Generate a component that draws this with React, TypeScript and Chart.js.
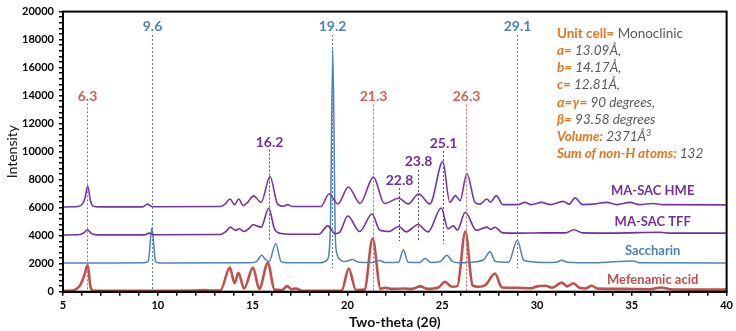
import React, { useEffect, useRef } from "react";
import { Chart, registerables } from "chart.js";

Chart.register(...registerables);

// ---- data (2θ, intensity) ----
const mefenamic: [number, number][] = [
  [5.0, 60], [5.5, 90], [5.9, 450], [6.12, 1150], [6.3, 1900], [6.45, 350], [6.6, 70], [8.0, 60],
  [10.0, 60], [12.0, 80], [12.5, 110], [12.7, 80], [13.3, 90], [13.8, 1720], [14.05, 600], [14.25, 1350],
  [14.55, 230], [15.02, 1720], [15.35, 200], [15.8, 2050], [16.15, 150], [16.55, 120], [16.82, 400],
  [17.05, 180], [17.3, 220], [17.6, 70], [19.0, 60], [19.7, 90], [20.07, 1650], [20.45, 120], [20.9, 150],
  [21.33, 3800], [21.75, 200], [22.0, 280], [22.3, 200], [23.0, 230], [23.4, 200], [23.85, 380], [24.2, 200],
  [24.8, 300], [25.15, 700], [25.5, 350], [25.8, 400], [26.22, 4300], [26.6, 450], [26.9, 350], [27.3, 500],
  [27.78, 1300], [28.15, 300], [28.9, 280], [29.7, 250], [30.0, 380], [30.45, 420], [30.8, 280], [31.3, 650],
  [31.6, 380], [31.92, 600], [32.2, 300], [32.55, 230], [32.88, 420], [33.2, 220], [34.5, 200], [36.0, 180],
  [36.55, 300], [37.0, 180], [38.5, 150], [40.0, 150],
];

const saccharin: [number, number][] = [
  [5.0, 2050], [9.3, 2060], [9.5, 2200], [9.69, 4550], [9.88, 2150], [10.1, 2050], [14.8, 2060], [15.2, 2150],
  [15.48, 2600], [15.62, 2400], [15.87, 2150], [16.22, 3430], [16.5, 2150], [16.8, 2060], [18.6, 2070],
  [18.95, 2300], [19.1, 4500], [19.23, 17300], [19.36, 4000], [19.45, 2700], [19.65, 2250], [19.9, 2150],
  [20.26, 2300], [20.6, 2100], [21.3, 2080], [21.68, 2230], [22.0, 2080], [22.7, 2100], [22.95, 3000],
  [23.2, 2100], [23.8, 2080], [24.1, 2370], [24.4, 2080], [24.9, 2150], [25.25, 2600], [25.55, 2150],
  [26.0, 2060], [26.5, 2100], [27.2, 2300], [27.52, 2850], [27.8, 2150], [28.5, 2100], [28.96, 3670],
  [29.3, 2250], [29.6, 2150], [30.5, 2080], [31.0, 2100], [31.3, 2250], [31.6, 2100], [33.0, 2060],
  [35.07, 2200], [35.4, 2060], [40.0, 2050],
];

const masacTFF: [number, number][] = [
  [5.0, 4050], [5.9, 4080], [6.15, 4250], [6.28, 4420], [6.5, 4150], [6.8, 4060], [9.3, 4060], [9.55, 4180],
  [9.8, 4070], [13.3, 4080], [13.6, 4300], [13.82, 4610], [14.1, 4380], [14.3, 4500], [14.55, 4300],
  [14.8, 4500], [15.02, 4780], [15.45, 4610], [15.85, 5960], [16.15, 4500], [16.5, 4150], [17.0, 4100],
  [18.5, 4100], [18.96, 4700], [19.35, 4140], [19.6, 4250], [20.02, 5400], [20.65, 4300], [21.3, 5550],
  [21.7, 4400], [22.2, 4300], [22.7, 4660], [23.1, 4270], [23.73, 4800], [24.25, 4270], [24.95, 5980],
  [25.3, 4500], [25.58, 4700], [25.8, 4400], [26.22, 5670], [26.8, 4380], [27.35, 4610], [27.55, 4450],
  [27.78, 4600], [28.2, 4200], [29.0, 4180], [30.3, 4200], [31.5, 4200], [31.95, 4420], [32.4, 4200],
  [34.0, 4180], [36.5, 4250], [37.0, 4180], [40.0, 4180],
];

const masacHME: [number, number][] = [
  [5.0, 6050], [5.8, 6080], [6.05, 6300], [6.18, 6800], [6.3, 7550], [6.45, 6500], [6.6, 6100], [6.9, 6060],
  [9.2, 6060], [9.45, 6250], [9.7, 6070], [13.3, 6080], [13.55, 6250], [13.81, 6620], [14.05, 6220],
  [14.27, 6620], [14.5, 6150], [14.75, 6400], [15.05, 6840], [15.45, 6380], [15.92, 8230], [16.3, 6300],
  [16.6, 6100], [16.85, 6220], [17.1, 6080], [18.6, 6080], [19.03, 6980], [19.5, 6270], [20.05, 7480],
  [20.67, 6300], [21.37, 8180], [21.95, 6300], [22.72, 6670], [23.2, 6270], [23.76, 6980], [24.35, 6270],
  [25.03, 9290], [25.4, 6380], [25.7, 6860], [25.94, 6500], [26.3, 8440], [26.73, 6380], [27.0, 6250],
  [27.35, 6620], [27.55, 6400], [27.85, 6860], [28.2, 6220], [29.0, 6220], [29.36, 6380], [29.7, 6220],
  [30.24, 6380], [30.7, 6220], [31.38, 6450], [31.7, 6250], [32.0, 6700], [32.4, 6220], [33.0, 6250],
  [33.67, 6380], [34.2, 6220], [34.9, 6380], [35.4, 6220], [36.13, 6300], [36.6, 6220], [40.0, 6200],
];

// peak markers
const peakLabels = ["6.3", "9.6", "16.2", "19.2", "21.3", "22.8", "23.8", "25.1", "26.3", "29.1"];
const peakPositions = [6.27, 9.69, 15.88, 19.21, 21.37, 22.72, 23.74, 25.03, 26.24, 28.95];
const peakLineTop = [13450, 18330, 10150, 18330, 13360, 7400, 8680, 10050, 13360, 18330];
const peakLineBottom = [0, 0, 3600, 1700, 0, 3620, 3620, 3430, 0, 1700];
const peakLabelY = [13950, 18960, 10640, 18960, 13950, 7970, 9290, 10570, 13950, 18960];
const peakGroup = ["mef", "sac", "co", "sac", "mef", "co", "co", "co", "mef", "sac"];

// series name labels
const seriesNames = ["MA-SAC HME", "MA-SAC TFF", "Saccharin", "Mefenamic acid"];
const seriesLabelY = [7200, 4960, 2910, 830];
const seriesLabelX = 36.1;

// axis
const xMin = 5;
const xMax = 40;
const yMax = 20000;

// crystal data text
const ORANGE = "#E5761C";
const GRAY = "#5A5A5A";
const cellLines: [string, string][][] = [
  [["Unit cell=", "b"], [" Monoclinic", "n"]],
  [["a=", "bi"], [" 13.09Å,", "i"]],
  [["b=", "bi"], [" 14.17Å,", "i"]],
  [["c=", "bi"], [" 12.81Å,", "i"]],
  [["α=γ=", "bi"], [" 90 degrees,", "i"]],
  [["β=", "bi"], [" 93.58 degrees", "i"]],
  [["Volume:", "bi"], [" 2371Å", "i"], ["3", "sup"]],
  [["Sum of non-H atoms:", "bi"], [" 132", "i"]],
];

const RED = "#C0504D";
const RED_LABEL = "#CF605C";
const BLUE = "#4F81BD";
const PURPLE = "#7030A0";
const groupColor: Record<string, string> = { mef: RED_LABEL, sac: BLUE, co: PURPLE };
const seriesColors = [PURPLE, PURPLE, BLUE, RED];
const FONT = "Lato, 'Open Sans', sans-serif";

const toXY = (arr: [number, number][]) => arr.map(([x, y]) => ({ x, y }));

const overlay = {
  id: "overlay",
  afterDatasetsDraw(chart: any) {
    const { ctx, chartArea, scales } = chart;
    const x = scales.x;
    const y = scales.y;
    ctx.save();
    // dotted marker lines and labels
    peakPositions.forEach((p, i) => {
      const px = Math.round(x.getPixelForValue(p)) + 0.5;
      const col = groupColor[peakGroup[i]];
      ctx.strokeStyle = col;
      ctx.lineWidth = 1;
      ctx.setLineDash([2, 2]);
      ctx.beginPath();
      ctx.moveTo(px, y.getPixelForValue(peakLineTop[i]));
      ctx.lineTo(px, y.getPixelForValue(peakLineBottom[i]));
      ctx.stroke();
      ctx.setLineDash([]);
      ctx.fillStyle = col;
      ctx.font = `bold 14px ${FONT}`;
      ctx.textAlign = "center";
      ctx.textBaseline = "middle";
      ctx.fillText(peakLabels[i], px, y.getPixelForValue(peakLabelY[i]));
    });
    // series names
    seriesNames.forEach((n, i) => {
      ctx.fillStyle = seriesColors[i];
      ctx.font = `bold 13px ${FONT}`;
      ctx.textAlign = "center";
      ctx.textBaseline = "middle";
      ctx.fillText(n, x.getPixelForValue(seriesLabelX), y.getPixelForValue(seriesLabelY[i]));
    });
    // crystal data block
    const bx = x.getPixelForValue(31.05);
    ctx.textAlign = "left";
    ctx.textBaseline = "middle";
    cellLines.forEach((segs, i) => {
      let cx = bx;
      const cy = 33.5 + i * 17.2;
      segs.forEach(([t, s]) => {
        let font = `13.5px ${FONT}`;
        let color = GRAY;
        let dy = 0;
        if (s === "b") { font = `bold 13.5px ${FONT}`; color = ORANGE; }
        if (s === "bi") { font = `italic bold 13.5px ${FONT}`; color = ORANGE; }
        if (s === "i") { font = `italic 13.5px ${FONT}`; }
        if (s === "sup") { font = `italic 9px ${FONT}`; dy = -4; }
        ctx.font = font;
        ctx.fillStyle = color;
        ctx.fillText(t, cx, cy + dy);
        cx += ctx.measureText(t).width;
      });
    });
    // frame
    ctx.strokeStyle = "#000";
    ctx.lineWidth = 2;
    ctx.strokeRect(chartArea.left, chartArea.top, chartArea.right - chartArea.left, chartArea.bottom - chartArea.top);
    ctx.restore();
  },
};

export default function App() {
  const ref = useRef<HTMLCanvasElement | null>(null);
  useEffect(() => {
    if (!ref.current) return;
    const chart = new Chart(ref.current, {
      type: "line",
      data: {
        datasets: [
          { label: "MA-SAC HME", data: toXY(masacHME), borderColor: "#7636AA", borderWidth: 1.6 },
          { label: "MA-SAC TFF", data: toXY(masacTFF), borderColor: PURPLE, borderWidth: 1.6 },
          { label: "Saccharin", data: toXY(saccharin), borderColor: BLUE, borderWidth: 1.5 },
          { label: "Mefenamic acid", data: toXY(mefenamic), borderColor: RED, borderWidth: 2.6 },
        ].map((d) => ({ ...d, pointRadius: 0, fill: false, cubicInterpolationMode: "monotone" as const })),
      },
      options: {
        animation: false,
        responsive: false,
        events: [],
        layout: { padding: { top: 9, right: 8, left: 0, bottom: 0 } },
        plugins: { legend: { display: false }, tooltip: { enabled: false } },
        scales: {
          x: {
            type: "linear",
            min: xMin,
            max: xMax,
            afterFit: (s: any) => { s.height = 39.3; },
            border: { display: true, color: "#000", width: 2 },
            grid: { drawOnChartArea: false, drawTicks: true, tickLength: 4, color: "#000", lineWidth: 1.5 },
            ticks: {
              stepSize: 1,
              autoSkip: false,
              maxRotation: 0,
              color: "#000",
              padding: 3,
              font: { family: FONT, size: 11, weight: "bold" },
              callback: (v: any) => (Number(v) % 5 === 0 ? String(v) : ""),
            },
            title: {
              display: true,
              text: "Two-theta (2θ)",
              color: "#111",
              font: { family: FONT, size: 14, weight: "bold" },
              padding: { top: 0, bottom: 0 },
            },
          },
          y: {
            min: 0,
            max: yMax,
            afterFit: (s: any) => { s.width = 63; },
            border: { display: true, color: "#000", width: 2 },
            grid: { drawOnChartArea: false, drawTicks: true, tickLength: 4, color: "#000", lineWidth: 1.5 },
            ticks: {
              stepSize: 400,
              autoSkip: false,
              color: "#000",
              padding: 5,
              font: { family: FONT, size: 11, weight: "bold" },
              callback: (v: any) => (Number(v) % 2000 === 0 ? String(v) : ""),
            },
            title: {
              display: true,
              text: "Intensity",
              color: "#111",
              font: { family: FONT, size: 14 },
              padding: { top: 4, bottom: 0 },
            },
          },
        },
      },
      plugins: [overlay],
    });
    return () => chart.destroy();
  }, []);
  return (
    <div style={{ position: "absolute", left: 0, top: 0, width: 736, height: 331, background: "#fff" }}>
      <canvas ref={ref} width={736} height={331} style={{ display: "block" }} />
    </div>
  );
}
